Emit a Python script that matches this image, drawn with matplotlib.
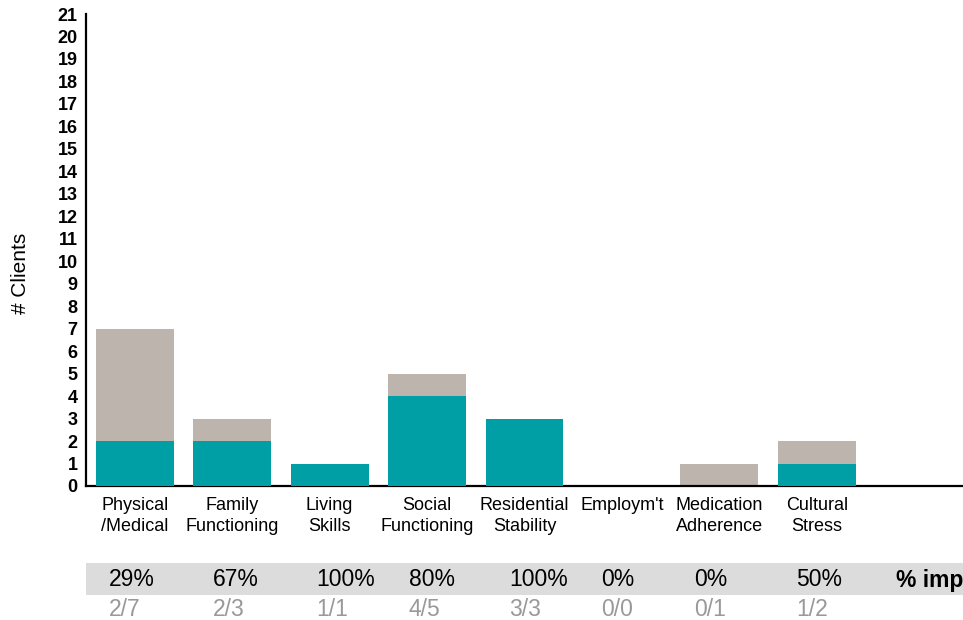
import matplotlib
matplotlib.use("Agg")
import matplotlib.pyplot as plt
import matplotlib.transforms as mtransforms
from matplotlib.patches import Rectangle
import numpy as np

plt.rcParams['font.family'] = ['Liberation Sans', 'DejaVu Sans']

# ---- data ----
categories = ["Physical\n/Medical", "Family\nFunctioning", "Living\nSkills", "Social\nFunctioning",
              "Residential\nStability", "Employm't", "Medication\nAdherence", "Cultural\nStress", ""]
total = [7, 3, 1, 5, 3, 0, 1, 2]
improved = [2, 2, 1, 4, 3, 0, 0, 1]
pct_labels = ["29%", "67%", "100%", "80%", "100%", "0%", "0%", "50%"]
frac_labels = ["2/7", "2/3", "1/1", "4/5", "3/3", "0/0", "0/1", "1/2"]

TEAL = "#009EA5"
GRAY = "#BDB4AE"

W, H = 963, 620
fig = plt.figure(figsize=(W/100, H/100), dpi=100)
ax = fig.add_axes([86/W, (H-486)/H, 1-86/W, 472/H])

x = np.arange(len(total))
ax.bar(x, total, width=0.8, color=GRAY, zorder=2)
ax.bar(x, improved, width=0.8, color=TEAL, zorder=3)

ax.set_xlim(-0.5, len(categories)-0.5)
ax.set_ylim(0, 21)
ax.set_yticks(range(0, 22))
ax.set_yticklabels([str(v) for v in range(0, 22)], fontsize=13, fontweight="bold")
ax.set_xticks(range(len(categories)))
ax.set_xticklabels(categories, fontsize=13, linespacing=1.3)
ax.tick_params(axis="both", length=0)
ax.tick_params(axis="x", pad=8)
ax.tick_params(axis="y", pad=6)
for s in ["top", "right"]:
    ax.spines[s].set_visible(False)
for s in ["left", "bottom"]:
    ax.spines[s].set_linewidth(1.6)
    ax.spines[s].set_color("black")

fig.text(20/W, 1-273/H, "# Clients", rotation=90, ha="center", va="center", fontsize=15)

# ---- summary table below the chart ----
fig.patches.append(Rectangle((86/W, (H-595)/H), 1-86/W, 32/H, transform=fig.transFigure,
                             facecolor="#DCDCDC", edgecolor="none", zorder=0))
trans = mtransforms.blended_transform_factory(ax.transData, fig.transFigure)
col_x = [-0.27, 0.80, 1.86, 2.81, 3.84, 4.79, 5.74, 6.79]
for cx, p, f in zip(col_x, pct_labels, frac_labels):
    fig.text(cx, 1-580/H, p, transform=trans, ha="left", va="center", fontsize=16.5, color="black")
    fig.text(cx, 1-609/H, f, transform=trans, ha="left", va="center", fontsize=16.5, color="#999999")
# the reference shows only "% imp" at the right edge
fig.text(7.81, 1-580/H, "% imp", transform=trans, ha="left", va="center",
         fontsize=16.5, fontweight="bold", color="black")

fig.savefig("out.png", dpi=100)
